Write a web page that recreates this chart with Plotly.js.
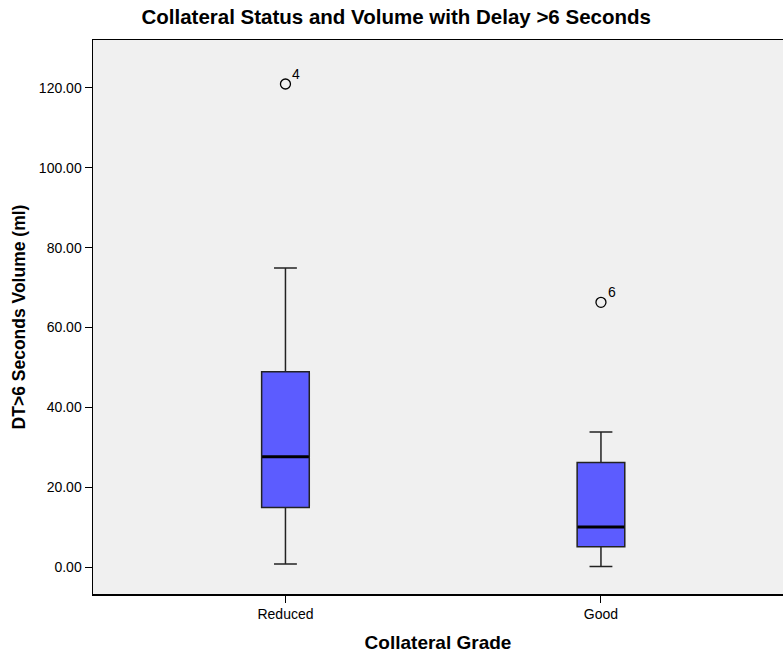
<!DOCTYPE html>
<html>
<head>
<meta charset="utf-8">
<script src="https://cdn.plot.ly/plotly-3.0.1.min.js"></script>
<style>html,body{margin:0;padding:0;background:#fff;}#chart{width:783px;height:658px;}</style>
</head>
<body>
<div id="chart"></div>
<script>
// Data
const categories = ["Reduced", "Good"];
const lowerWhisker = [0.75, 0.1];
const q1Values = [14.9, 5.1];
const medianValues = [27.6, 10.0];
const q3Values = [48.9, 26.2];
const upperWhisker = [74.9, 33.8];
const outlierCategory = ["Reduced", "Good"];
const outlierValues = [121.0, 66.3];
const outlierLabels = ["4", "6"];
const yTickValues = [0, 20, 40, 60, 80, 100, 120];
const yTickLabels = ["0.00", "20.00", "40.00", "60.00", "80.00", "100.00", "120.00"];

const font = "Liberation Sans, Arial, sans-serif";

const boxTrace = {
  type: "box",
  x: categories,
  q1: q1Values,
  median: medianValues,
  q3: q3Values,
  lowerfence: lowerWhisker,
  upperfence: upperWhisker,
  fillcolor: "#5c5cff",
  line: {color: "#222222", width: 1.5},
  width: 0.151,
  whiskerwidth: 0.48,
  boxpoints: false,
  hoverinfo: "skip",
  showlegend: false
};

// thick median bar: a zero-height box at each median
const medianTrace = {
  type: "box",
  x: categories,
  q1: medianValues,
  median: medianValues,
  q3: medianValues,
  lowerfence: medianValues,
  upperfence: medianValues,
  fillcolor: "rgba(0,0,0,0)",
  line: {color: "#000000", width: 3},
  width: 0.148,
  whiskerwidth: 0,
  boxpoints: false,
  hoverinfo: "skip",
  showlegend: false
};

const outlierTrace = {
  type: "scatter",
  mode: "markers",
  x: outlierCategory,
  y: outlierValues,
  marker: {symbol: "circle-open", size: 10, color: "#000", line: {width: 1.3, color: "#000"}},
  hoverinfo: "skip",
  showlegend: false,
  cliponaxis: false
};

const outlierAnnotations = outlierLabels.map((lab, i) => ({
  x: outlierCategory[i],
  y: outlierValues[i],
  xref: "x", yref: "y",
  text: lab,
  showarrow: false,
  xshift: 11,
  yshift: 10,
  font: {family: font, size: 14, color: "#000"}
}));

const layout = {
  width: 783,
  height: 658,
  margin: {l: 93, r: 0, t: 40, b: 64},
  paper_bgcolor: "#ffffff",
  plot_bgcolor: "#f0f0f0",
  font: {family: font, size: 14, color: "#000"},
  boxmode: "overlay",
  title: {
    text: "<b>Collateral Status and Volume with Delay >6 Seconds</b>",
    font: {family: font, size: 20.5, color: "#000"},
    x: 0.506, xref: "container", xanchor: "center",
    y: 0.974, yref: "container", yanchor: "middle"
  },
  annotations: outlierAnnotations,
  xaxis: {
    type: "category",
    range: [-0.610, 1.577],
    showgrid: false,
    zeroline: false,
    showline: true,
    mirror: true,
    linecolor: "#000",
    linewidth: 1.5,
    ticks: "outside",
    ticklen: 7,
    tickwidth: 1,
    tickcolor: "#000",
    tickfont: {family: font, size: 14, color: "#000"},
    title: {text: "<b>Collateral Grade</b>", font: {family: font, size: 19, color: "#000"}, standoff: 14},
    fixedrange: true
  },
  yaxis: {
    range: [-6.76, 132.02],
    tickvals: yTickValues,
    ticktext: yTickLabels,
    showgrid: false,
    zeroline: false,
    showline: true,
    mirror: false,
    linecolor: "#000",
    linewidth: 1.5,
    ticks: "outside",
    ticklen: 7,
    tickwidth: 1,
    tickcolor: "#000",
    tickfont: {family: font, size: 14, color: "#000"},
    title: {text: "<b>DT>6 Seconds Volume (ml)</b>", font: {family: font, size: 17.5, color: "#000"}, standoff: 8},
    fixedrange: true
  }
};

Plotly.newPlot("chart", [boxTrace, medianTrace, outlierTrace], layout, {staticPlot: true});
</script>
</body>
</html>
